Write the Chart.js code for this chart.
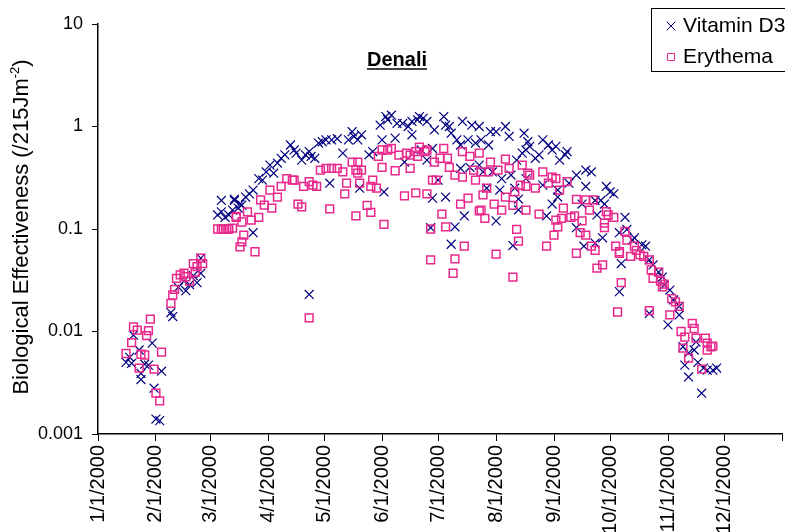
<!DOCTYPE html>
<html>
<head>
<meta charset="utf-8">
<script src="https://cdn.jsdelivr.net/npm/chart.js@4.4.1/dist/chart.umd.min.js"></script>
<style>
  html, body { margin: 0; padding: 0; background: #fff; overflow: hidden; }
  #wrap { position: relative; width: 785px; height: 532px; }
</style>
</head>
<body>
<div id="wrap"><canvas id="chart" width="785" height="532"></canvas></div>
<script>
// Days are counted from 1 Jan 2000 (day 0); 2000 is a leap year
const MONTH_START_DAYS = [0, 31, 60, 91, 121, 152, 182, 213, 244, 274, 305, 335, 366];
const MONTH_LABELS = ["1/1/2000", "2/1/2000", "3/1/2000", "4/1/2000", "5/1/2000", "6/1/2000",
  "7/1/2000", "8/1/2000", "9/1/2000", "10/1/2000", "11/1/2000", "12/1/2000", ""];
const Y_TICKS = [0.001, 0.01, 0.1, 1, 10];

const SERIES_NAMES = ["Vitamin D3", "Erythema"];

const vitaminDays = [
  15, 17, 18, 19, 22, 23, 23, 25, 27, 29, 30, 31, 33, 34,
  39, 40, 43, 46, 47, 49, 51, 53, 55, 55,
  64, 66, 66, 68, 70, 72, 73, 73, 75, 76, 77, 79, 81, 83, 83, 86, 88, 90, 92, 94, 96, 98,
  100, 103, 105, 106, 109, 111, 113, 113, 114, 116, 118, 120, 122, 124, 125, 128,
  131, 134, 136, 137, 139, 140, 141, 145, 147, 151, 152, 153, 154, 155, 157, 159,
  160, 163, 164, 166, 168, 168, 171, 172, 173, 174, 176, 176, 178, 179, 179, 180,
  182, 185, 186, 186, 188, 189, 189, 191, 192, 194, 194, 195, 196, 198, 199, 200,
  202, 204, 204, 205, 206, 208, 209, 210, 211, 213, 213, 215, 216, 218, 220, 221,
  222, 223, 224, 225, 225, 227, 228, 229, 229, 230, 231, 234, 236, 238, 238, 240,
  241, 243, 243, 245, 246, 246, 247, 250, 251, 252, 256, 256, 259, 260, 261, 261,
  264, 266, 266, 267, 269, 270, 271, 272, 274, 276, 279, 279, 280, 282, 283, 286,
  287, 291, 293, 295, 295, 297, 300, 302, 303, 305, 306, 308, 311, 311, 313, 314,
  316, 316, 319, 320, 321, 323, 324, 326, 329, 331
];
const vitaminValues = [
  0.0050, 0.0056, 0.0049, 0.0092, 0.0066, 0.0039, 0.0034, 0.0048, 0.0047, 0.0077, 0.0028, 0.0014, 0.00135, 0.0041,
  0.0153, 0.014, 0.027, 0.031, 0.025, 0.0286, 0.035, 0.030, 0.037, 0.052,
  0.137, 0.147, 0.19, 0.13, 0.137, 0.153, 0.19, 0.196, 0.16, 0.175, 0.171, 0.205, 0.22, 0.24, 0.092, 0.31, 0.30, 0.36, 0.42, 0.35, 0.44, 0.49,
  0.53, 0.66, 0.59, 0.55, 0.47, 0.53, 0.57, 0.023, 0.51, 0.49, 0.69, 0.71, 0.74, 0.28, 0.74, 0.76,
  0.55, 0.74, 0.89, 0.80, 0.74, 0.25, 0.83, 0.53, 0.57, 1.03, 0.74, 0.23, 1.25, 1.16, 1.29, 0.77,
  1.07, 1.07, 0.45, 1.0, 0.83, 1.12, 1.16, 1.25, 0.59, 1.2, 1.12, 0.47, 0.103, 0.61, 0.20, 0.925,
  0.30, 1.25, 1.03, 0.205, 1.0, 0.86, 0.071, 0.105, 0.74, 0.66, 0.39, 1.12, 0.134, 0.74, 0.40, 1.03,
  0.69, 1.0, 0.42, 0.74, 0.36, 0.25, 0.66, 0.89, 0.36, 0.89, 0.12, 0.24, 0.31, 1.0, 0.80, 0.336,
  0.069, 0.25, 0.47, 0.196, 0.154, 0.55, 0.86, 0.59, 0.31, 0.71, 0.64, 0.49, 0.53, 0.74, 0.268, 0.134,
  0.66, 0.59, 0.175, 0.64, 0.24, 0.205, 0.47, 0.53, 0.57, 0.28, 0.336, 0.103, 0.175, 0.068, 0.376, 0.26,
  0.36, 0.19, 0.073, 0.137, 0.19, 0.082, 0.175, 0.26, 0.23, 0.22, 0.092, 0.0245, 0.046, 0.13, 0.099, 0.078,
  0.082, 0.070, 0.068, 0.050, 0.0150, 0.0446, 0.038, 0.034, 0.0284, 0.0116, 0.0254, 0.0203, 0.0176, 0.0145, 0.0071, 0.0047,
  0.0062, 0.0036, 0.0066, 0.0079, 0.0050, 0.0025, 0.0044, 0.0042, 0.0042, 0.0044
];

const erythemaDays = [
  15, 18, 19, 21, 22, 23, 25, 26, 27, 28, 30, 31, 33, 34,
  39, 40, 41, 42, 44, 46, 47, 49, 51, 52, 53, 55, 56,
  64, 66, 67, 69, 70, 72, 74, 74, 76, 77, 77, 78, 80, 82, 84, 86, 87, 89, 92, 93, 96, 98,
  101, 104, 105, 107, 109, 110, 113, 113, 115, 117, 119, 122, 124, 125, 128,
  131, 132, 133, 136, 138, 138, 139, 139, 140, 141, 144, 146, 146, 147, 149, 150,
  152, 152, 153, 155, 157, 159, 161, 164, 165, 167, 167, 170, 170, 171, 172, 175,
  176, 176, 178, 178, 179, 180, 181, 183, 184, 185, 186, 187, 188, 190, 191, 191,
  194, 195, 195, 196, 198, 199, 201, 202, 204, 204, 205, 205, 206, 207, 208, 209,
  210, 212, 213, 214, 216, 218, 218, 220, 222, 222, 223, 224, 225, 226, 227, 229,
  229, 230, 231, 234, 236, 238, 240, 241, 243, 244, 245, 245, 246, 247, 248, 249,
  251, 253, 255, 256, 256, 258, 259, 261, 261, 263, 264, 265, 266, 267, 270, 271,
  271, 272, 273, 276, 277, 278, 279, 279, 280, 282, 283, 285, 287, 288, 290, 292,
  295, 295, 296, 297, 300, 301, 302, 303, 306, 307, 309, 311, 312, 313, 314, 316,
  318, 319, 320, 323, 325, 326, 326, 328, 329
];
const erythemaValues = [
  0.0061, 0.0078, 0.0111, 0.0103, 0.0044, 0.0060, 0.0059, 0.0091, 0.0102, 0.0132, 0.0043, 0.0025, 0.0021, 0.0063,
  0.0188, 0.0227, 0.0258, 0.033, 0.0356, 0.037, 0.0342, 0.031, 0.046, 0.038, 0.043, 0.052, 0.046,
  0.10, 0.099, 0.10, 0.10, 0.10, 0.102, 0.133, 0.13, 0.067, 0.075, 0.117, 0.087, 0.147, 0.122, 0.060, 0.13, 0.192, 0.171, 0.24, 0.16, 0.205, 0.26,
  0.31, 0.30, 0.30, 0.175, 0.164, 0.26, 0.29, 0.0136, 0.268, 0.26, 0.376, 0.39, 0.157, 0.39, 0.39,
  0.36, 0.22, 0.28, 0.45, 0.376, 0.134, 0.45, 0.35, 0.28, 0.376, 0.17, 0.26, 0.145, 0.30, 0.25, 0.51,
  0.59, 0.40, 0.111, 0.59, 0.61, 0.37, 0.527, 0.21, 0.55, 0.527, 0.39, 0.57, 0.225, 0.51, 0.63, 0.57,
  0.59, 0.22, 0.10, 0.050, 0.30, 0.45, 0.30, 0.49, 0.14, 0.61, 0.105, 0.49, 0.40, 0.037, 0.336, 0.051,
  0.175, 0.32, 0.57, 0.068, 0.20, 0.51, 0.376, 0.30, 0.55, 0.15, 0.36, 0.153, 0.215, 0.127, 0.25, 0.36,
  0.45, 0.175, 0.057, 0.376, 0.153, 0.48, 0.205, 0.39, 0.17, 0.034, 0.23, 0.099, 0.076, 0.268, 0.42, 0.26,
  0.153, 0.35, 0.336, 0.25, 0.14, 0.36, 0.068, 0.28, 0.32, 0.087, 0.31, 0.122, 0.105, 0.24, 0.127, 0.16,
  0.29, 0.13, 0.134, 0.195, 0.058, 0.092, 0.12, 0.192, 0.087, 0.153, 0.068, 0.192, 0.062, 0.0415, 0.0446, 0.114,
  0.103, 0.148, 0.137, 0.13, 0.068, 0.0155, 0.058, 0.060, 0.030, 0.095, 0.078, 0.054, 0.068, 0.062, 0.056, 0.054,
  0.050, 0.016, 0.040, 0.033, 0.038, 0.031, 0.0272, 0.029, 0.0145, 0.0209, 0.0195, 0.0176, 0.0100, 0.0069, 0.0088, 0.0055,
  0.0120, 0.0107, 0.0086, 0.0043, 0.0086, 0.0077, 0.0066, 0.0071, 0.0072
];

const NAVY = "#000080";
const PINK = "#E8288C";
const FONT = "'Liberation Sans', Arial, sans-serif";

function toPoints(days, values) {
  return days.map((d, i) => ({ x: d, y: values[i] }));
}

// title, y-axis title with superscript, and boxed legend (Excel style)
const decorPlugin = {
  id: "decor",
  afterDraw(chart) {
    const ctx = chart.ctx;
    ctx.save();
    ctx.fillStyle = "#000";
    ctx.strokeStyle = "#000";

    // Title "Denali", bold + underlined
    ctx.font = "bold 20px " + FONT;
    ctx.textAlign = "center";
    ctx.textBaseline = "alphabetic";
    const tx = 397, ty = 66;
    ctx.fillText("Denali", tx, ty);
    const tw = ctx.measureText("Denali").width;
    ctx.lineWidth = 1.5;
    ctx.beginPath();
    ctx.moveTo(tx - tw / 2, ty + 3);
    ctx.lineTo(tx + tw / 2, ty + 3);
    ctx.stroke();

    // Y axis title
    const main = "Biological Effectiveness (/215Jm";
    const sup = "-2";
    const close = ")";
    ctx.save();
    ctx.translate(22, 227);
    ctx.rotate(-Math.PI / 2);
    ctx.textAlign = "left";
    ctx.textBaseline = "middle";
    ctx.font = "22px " + FONT;
    const wMain = ctx.measureText(main).width;
    const wClose = ctx.measureText(close).width;
    ctx.font = "13px " + FONT;
    const wSup = ctx.measureText(sup).width;
    const x0 = -(wMain + wSup + wClose) / 2;
    ctx.font = "22px " + FONT;
    ctx.fillText(main, x0, 0);
    ctx.font = "13px " + FONT;
    ctx.fillText(sup, x0 + wMain, -7);
    ctx.font = "22px " + FONT;
    ctx.fillText(close, x0 + wMain + wSup, 0);
    ctx.restore();

    // Legend box (runs off the right edge)
    ctx.lineWidth = 1;
    ctx.strokeRect(651.5, 8.5, 200, 63);
    const rows = [
      { style: "crossRot", color: NAVY, radius: 6, y: 26 },
      { style: "rect", color: PINK, radius: 5, y: 57 },
    ];
    ctx.font = "21px " + FONT;
    ctx.textAlign = "left";
    ctx.textBaseline = "middle";
    rows.forEach((r, i) => {
      ctx.save();
      ctx.strokeStyle = r.color;
      ctx.fillStyle = "rgba(0,0,0,0)";
      Chart.helpers.drawPoint(ctx, { pointStyle: r.style, radius: r.radius, borderWidth: 1.2, rotation: 0 }, 671, r.y);
      ctx.restore();
      ctx.fillStyle = "#000";
      ctx.fillText(SERIES_NAMES[i], 683, r.y);
    });
    ctx.restore();
  },
};

new Chart(document.getElementById("chart"), {
  type: "scatter",
  data: {
    datasets: [
      {
        label: SERIES_NAMES[0],
        data: toPoints(vitaminDays, vitaminValues),
        pointStyle: "crossRot",
        pointRadius: 6.3,
        borderColor: NAVY,
        backgroundColor: NAVY,
        pointBorderWidth: 1.2,
        order: 2,
      },
      {
        label: SERIES_NAMES[1],
        data: toPoints(erythemaDays, erythemaValues),
        pointStyle: "rect",
        pointRadius: 5.5,
        borderColor: PINK,
        backgroundColor: "rgba(0,0,0,0)",
        pointBorderWidth: 1.5,
        order: 1,
      },
    ],
  },
  options: {
    responsive: false,
    animation: false,
    devicePixelRatio: 1,
    layout: { autoPadding: false, padding: { top: 24, right: 3, bottom: 0, left: 0 } },
    plugins: {
      legend: { display: false },
      title: { display: false },
      tooltip: { enabled: false },
    },
    scales: {
      x: {
        type: "linear",
        min: 0,
        max: 366,
        afterBuildTicks: (scale) => {
          scale.ticks = MONTH_START_DAYS.map((v) => ({ value: v }));
        },
        afterFit: (scale) => {
          scale.height = 98;
          // labels hang below the axis; don't let them push the plot edges in
          scale.paddingLeft = 0;
          scale.paddingRight = 0;
        },
        ticks: {
          autoSkip: false,
          minRotation: 90,
          maxRotation: 90,
          padding: 4,
          color: "#000",
          font: { family: FONT, size: 20 },
          callback: (value, index) => MONTH_LABELS[index],
        },
        grid: { drawOnChartArea: false, drawTicks: true, tickLength: 7, color: "#000", lineWidth: 1 },
        border: { color: "#000", width: 1.5 },
      },
      y: {
        type: "logarithmic",
        min: 0.001,
        max: 10,
        afterBuildTicks: (scale) => {
          scale.ticks = Y_TICKS.map((v) => ({ value: v }));
        },
        afterFit: (scale) => {
          scale.width = 98;
        },
        ticks: {
          padding: 9,
          color: "#000",
          font: { family: FONT, size: 18 },
          callback: (value) => String(value),
        },
        grid: { drawOnChartArea: false, drawTicks: true, tickLength: 6, color: "#000", lineWidth: 1 },
        border: { color: "#000", width: 1.5 },
      },
    },
  },
  plugins: [decorPlugin],
});
</script>
</body>
</html>
